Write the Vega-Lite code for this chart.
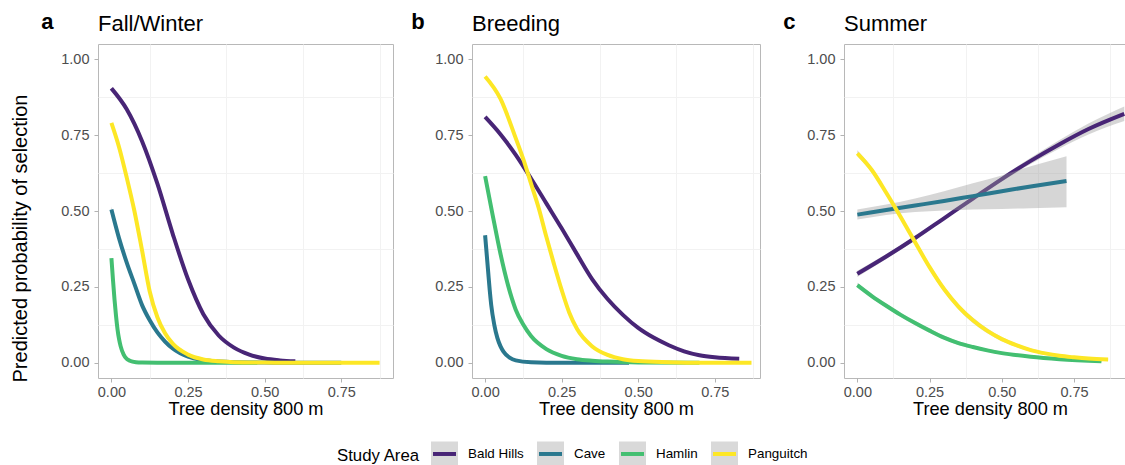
{
  "$schema": "https://vega.github.io/schema/vega-lite/v6.json",
  "padding": {"left": 10, "top": 10, "right": 0, "bottom": 0},
  "data": {
    "values": [
      {"season": "Fall/Winter", "area": "Bald Hills", "x": 0, "p": 0.904},
      {"season": "Fall/Winter", "area": "Bald Hills", "x": 0.05, "p": 0.835},
      {"season": "Fall/Winter", "area": "Bald Hills", "x": 0.1, "p": 0.73},
      {"season": "Fall/Winter", "area": "Bald Hills", "x": 0.15, "p": 0.59},
      {"season": "Fall/Winter", "area": "Bald Hills", "x": 0.2, "p": 0.425},
      {"season": "Fall/Winter", "area": "Bald Hills", "x": 0.25, "p": 0.275},
      {"season": "Fall/Winter", "area": "Bald Hills", "x": 0.3, "p": 0.16},
      {"season": "Fall/Winter", "area": "Bald Hills", "x": 0.35, "p": 0.09},
      {"season": "Fall/Winter", "area": "Bald Hills", "x": 0.4, "p": 0.05},
      {"season": "Fall/Winter", "area": "Bald Hills", "x": 0.45, "p": 0.027},
      {"season": "Fall/Winter", "area": "Bald Hills", "x": 0.5, "p": 0.014},
      {"season": "Fall/Winter", "area": "Bald Hills", "x": 0.55, "p": 0.008},
      {"season": "Fall/Winter", "area": "Bald Hills", "x": 0.6, "p": 0.005},

      {"season": "Fall/Winter", "area": "Cave", "x": 0, "p": 0.505, "lo": 0.495, "hi": 0.515},
      {"season": "Fall/Winter", "area": "Cave", "x": 0.025, "p": 0.41, "lo": 0.401, "hi": 0.419},
      {"season": "Fall/Winter", "area": "Cave", "x": 0.05, "p": 0.33, "lo": 0.322, "hi": 0.338},
      {"season": "Fall/Winter", "area": "Cave", "x": 0.075, "p": 0.26, "lo": 0.252, "hi": 0.268},
      {"season": "Fall/Winter", "area": "Cave", "x": 0.1, "p": 0.19, "lo": 0.182, "hi": 0.198},
      {"season": "Fall/Winter", "area": "Cave", "x": 0.125, "p": 0.14, "lo": 0.132, "hi": 0.148},
      {"season": "Fall/Winter", "area": "Cave", "x": 0.15, "p": 0.1, "lo": 0.092, "hi": 0.108},
      {"season": "Fall/Winter", "area": "Cave", "x": 0.175, "p": 0.07, "lo": 0.063, "hi": 0.077},
      {"season": "Fall/Winter", "area": "Cave", "x": 0.2, "p": 0.047, "lo": 0.041, "hi": 0.053},
      {"season": "Fall/Winter", "area": "Cave", "x": 0.25, "p": 0.02, "lo": 0.016, "hi": 0.024},
      {"season": "Fall/Winter", "area": "Cave", "x": 0.3, "p": 0.009, "lo": 0.006, "hi": 0.012},
      {"season": "Fall/Winter", "area": "Cave", "x": 0.35, "p": 0.004, "lo": 0.002, "hi": 0.006},
      {"season": "Fall/Winter", "area": "Cave", "x": 0.4, "p": 0.002, "lo": 0.001, "hi": 0.003},
      {"season": "Fall/Winter", "area": "Cave", "x": 0.5, "p": 0.001, "lo": 0, "hi": 0.002},
      {"season": "Fall/Winter", "area": "Cave", "x": 0.6, "p": 0, "lo": 0, "hi": 0.001},
      {"season": "Fall/Winter", "area": "Cave", "x": 0.75, "p": 0, "lo": 0, "hi": 0.001},

      {"season": "Fall/Winter", "area": "Hamlin", "x": 0, "p": 0.345},
      {"season": "Fall/Winter", "area": "Hamlin", "x": 0.005, "p": 0.275},
      {"season": "Fall/Winter", "area": "Hamlin", "x": 0.01, "p": 0.21},
      {"season": "Fall/Winter", "area": "Hamlin", "x": 0.015, "p": 0.155},
      {"season": "Fall/Winter", "area": "Hamlin", "x": 0.02, "p": 0.11},
      {"season": "Fall/Winter", "area": "Hamlin", "x": 0.025, "p": 0.078},
      {"season": "Fall/Winter", "area": "Hamlin", "x": 0.03, "p": 0.055},
      {"season": "Fall/Winter", "area": "Hamlin", "x": 0.04, "p": 0.027},
      {"season": "Fall/Winter", "area": "Hamlin", "x": 0.05, "p": 0.013},
      {"season": "Fall/Winter", "area": "Hamlin", "x": 0.06, "p": 0.007},
      {"season": "Fall/Winter", "area": "Hamlin", "x": 0.08, "p": 0.002},
      {"season": "Fall/Winter", "area": "Hamlin", "x": 0.1, "p": 0.001},
      {"season": "Fall/Winter", "area": "Hamlin", "x": 0.2, "p": 0},
      {"season": "Fall/Winter", "area": "Hamlin", "x": 0.476, "p": 0},

      {"season": "Fall/Winter", "area": "Panguitch", "x": 0, "p": 0.79},
      {"season": "Fall/Winter", "area": "Panguitch", "x": 0.025, "p": 0.71},
      {"season": "Fall/Winter", "area": "Panguitch", "x": 0.05, "p": 0.61},
      {"season": "Fall/Winter", "area": "Panguitch", "x": 0.075, "p": 0.5},
      {"season": "Fall/Winter", "area": "Panguitch", "x": 0.1, "p": 0.37},
      {"season": "Fall/Winter", "area": "Panguitch", "x": 0.125, "p": 0.235},
      {"season": "Fall/Winter", "area": "Panguitch", "x": 0.15, "p": 0.15},
      {"season": "Fall/Winter", "area": "Panguitch", "x": 0.175, "p": 0.097},
      {"season": "Fall/Winter", "area": "Panguitch", "x": 0.2, "p": 0.063},
      {"season": "Fall/Winter", "area": "Panguitch", "x": 0.25, "p": 0.027},
      {"season": "Fall/Winter", "area": "Panguitch", "x": 0.3, "p": 0.011},
      {"season": "Fall/Winter", "area": "Panguitch", "x": 0.35, "p": 0.005},
      {"season": "Fall/Winter", "area": "Panguitch", "x": 0.4, "p": 0.002},
      {"season": "Fall/Winter", "area": "Panguitch", "x": 0.5, "p": 0.001},
      {"season": "Fall/Winter", "area": "Panguitch", "x": 0.6, "p": 0},
      {"season": "Fall/Winter", "area": "Panguitch", "x": 0.875, "p": 0},

      {"season": "Breeding", "area": "Bald Hills", "x": 0, "p": 0.81},
      {"season": "Breeding", "area": "Bald Hills", "x": 0.05, "p": 0.753},
      {"season": "Breeding", "area": "Bald Hills", "x": 0.1, "p": 0.685},
      {"season": "Breeding", "area": "Bald Hills", "x": 0.15, "p": 0.607},
      {"season": "Breeding", "area": "Bald Hills", "x": 0.2, "p": 0.525},
      {"season": "Breeding", "area": "Bald Hills", "x": 0.25, "p": 0.443},
      {"season": "Breeding", "area": "Bald Hills", "x": 0.3, "p": 0.358},
      {"season": "Breeding", "area": "Bald Hills", "x": 0.35, "p": 0.275},
      {"season": "Breeding", "area": "Bald Hills", "x": 0.4, "p": 0.21},
      {"season": "Breeding", "area": "Bald Hills", "x": 0.45, "p": 0.158},
      {"season": "Breeding", "area": "Bald Hills", "x": 0.5, "p": 0.115},
      {"season": "Breeding", "area": "Bald Hills", "x": 0.55, "p": 0.083},
      {"season": "Breeding", "area": "Bald Hills", "x": 0.6, "p": 0.058},
      {"season": "Breeding", "area": "Bald Hills", "x": 0.65, "p": 0.038},
      {"season": "Breeding", "area": "Bald Hills", "x": 0.7, "p": 0.025},
      {"season": "Breeding", "area": "Bald Hills", "x": 0.75, "p": 0.018},
      {"season": "Breeding", "area": "Bald Hills", "x": 0.83, "p": 0.013},

      {"season": "Breeding", "area": "Cave", "x": 0, "p": 0.42},
      {"season": "Breeding", "area": "Cave", "x": 0.005, "p": 0.36},
      {"season": "Breeding", "area": "Cave", "x": 0.01, "p": 0.3},
      {"season": "Breeding", "area": "Cave", "x": 0.015, "p": 0.24},
      {"season": "Breeding", "area": "Cave", "x": 0.02, "p": 0.19},
      {"season": "Breeding", "area": "Cave", "x": 0.03, "p": 0.125},
      {"season": "Breeding", "area": "Cave", "x": 0.04, "p": 0.082},
      {"season": "Breeding", "area": "Cave", "x": 0.05, "p": 0.055},
      {"season": "Breeding", "area": "Cave", "x": 0.06, "p": 0.037},
      {"season": "Breeding", "area": "Cave", "x": 0.08, "p": 0.017},
      {"season": "Breeding", "area": "Cave", "x": 0.1, "p": 0.008},
      {"season": "Breeding", "area": "Cave", "x": 0.15, "p": 0.002},
      {"season": "Breeding", "area": "Cave", "x": 0.25, "p": 0},
      {"season": "Breeding", "area": "Cave", "x": 0.47, "p": 0},

      {"season": "Breeding", "area": "Hamlin", "x": 0, "p": 0.615},
      {"season": "Breeding", "area": "Hamlin", "x": 0.025, "p": 0.485},
      {"season": "Breeding", "area": "Hamlin", "x": 0.05, "p": 0.36},
      {"season": "Breeding", "area": "Hamlin", "x": 0.075, "p": 0.255},
      {"season": "Breeding", "area": "Hamlin", "x": 0.1, "p": 0.175},
      {"season": "Breeding", "area": "Hamlin", "x": 0.125, "p": 0.125},
      {"season": "Breeding", "area": "Hamlin", "x": 0.15, "p": 0.088},
      {"season": "Breeding", "area": "Hamlin", "x": 0.2, "p": 0.045},
      {"season": "Breeding", "area": "Hamlin", "x": 0.25, "p": 0.023},
      {"season": "Breeding", "area": "Hamlin", "x": 0.3, "p": 0.012},
      {"season": "Breeding", "area": "Hamlin", "x": 0.35, "p": 0.007},
      {"season": "Breeding", "area": "Hamlin", "x": 0.4, "p": 0.004},
      {"season": "Breeding", "area": "Hamlin", "x": 0.5, "p": 0.001},
      {"season": "Breeding", "area": "Hamlin", "x": 0.7, "p": 0},

      {"season": "Breeding", "area": "Panguitch", "x": 0, "p": 0.943},
      {"season": "Breeding", "area": "Panguitch", "x": 0.05, "p": 0.87},
      {"season": "Breeding", "area": "Panguitch", "x": 0.1, "p": 0.74},
      {"season": "Breeding", "area": "Panguitch", "x": 0.125, "p": 0.67},
      {"season": "Breeding", "area": "Panguitch", "x": 0.15, "p": 0.59},
      {"season": "Breeding", "area": "Panguitch", "x": 0.175, "p": 0.51},
      {"season": "Breeding", "area": "Panguitch", "x": 0.2, "p": 0.415},
      {"season": "Breeding", "area": "Panguitch", "x": 0.225, "p": 0.325},
      {"season": "Breeding", "area": "Panguitch", "x": 0.25, "p": 0.24},
      {"season": "Breeding", "area": "Panguitch", "x": 0.275, "p": 0.165},
      {"season": "Breeding", "area": "Panguitch", "x": 0.3, "p": 0.112},
      {"season": "Breeding", "area": "Panguitch", "x": 0.35, "p": 0.054},
      {"season": "Breeding", "area": "Panguitch", "x": 0.4, "p": 0.026},
      {"season": "Breeding", "area": "Panguitch", "x": 0.45, "p": 0.012},
      {"season": "Breeding", "area": "Panguitch", "x": 0.5, "p": 0.006},
      {"season": "Breeding", "area": "Panguitch", "x": 0.6, "p": 0.002},
      {"season": "Breeding", "area": "Panguitch", "x": 0.7, "p": 0},
      {"season": "Breeding", "area": "Panguitch", "x": 0.87, "p": 0},

      {"season": "Summer", "area": "Bald Hills", "x": 0, "p": 0.293, "lo": 0.283, "hi": 0.303},
      {"season": "Summer", "area": "Bald Hills", "x": 0.1, "p": 0.35, "lo": 0.342, "hi": 0.358},
      {"season": "Summer", "area": "Bald Hills", "x": 0.2, "p": 0.411, "lo": 0.404, "hi": 0.418},
      {"season": "Summer", "area": "Bald Hills", "x": 0.3, "p": 0.476, "lo": 0.47, "hi": 0.482},
      {"season": "Summer", "area": "Bald Hills", "x": 0.4, "p": 0.541, "lo": 0.535, "hi": 0.547},
      {"season": "Summer", "area": "Bald Hills", "x": 0.5, "p": 0.605, "lo": 0.597, "hi": 0.613},
      {"season": "Summer", "area": "Bald Hills", "x": 0.6, "p": 0.665, "lo": 0.655, "hi": 0.675},
      {"season": "Summer", "area": "Bald Hills", "x": 0.7, "p": 0.72, "lo": 0.706, "hi": 0.734},
      {"season": "Summer", "area": "Bald Hills", "x": 0.8, "p": 0.77, "lo": 0.752, "hi": 0.788},
      {"season": "Summer", "area": "Bald Hills", "x": 0.924, "p": 0.82, "lo": 0.796, "hi": 0.844},

      {"season": "Summer", "area": "Cave", "x": 0, "p": 0.488, "lo": 0.472, "hi": 0.505},
      {"season": "Summer", "area": "Cave", "x": 0.1, "p": 0.503, "lo": 0.487, "hi": 0.521},
      {"season": "Summer", "area": "Cave", "x": 0.2, "p": 0.518, "lo": 0.497, "hi": 0.541},
      {"season": "Summer", "area": "Cave", "x": 0.3, "p": 0.533, "lo": 0.502, "hi": 0.565},
      {"season": "Summer", "area": "Cave", "x": 0.4, "p": 0.549, "lo": 0.505, "hi": 0.591},
      {"season": "Summer", "area": "Cave", "x": 0.5, "p": 0.565, "lo": 0.507, "hi": 0.617},
      {"season": "Summer", "area": "Cave", "x": 0.6, "p": 0.581, "lo": 0.509, "hi": 0.647},
      {"season": "Summer", "area": "Cave", "x": 0.724, "p": 0.599, "lo": 0.512, "hi": 0.68},

      {"season": "Summer", "area": "Hamlin", "x": 0, "p": 0.256, "lo": 0.248, "hi": 0.264},
      {"season": "Summer", "area": "Hamlin", "x": 0.05, "p": 0.22, "lo": 0.213, "hi": 0.227},
      {"season": "Summer", "area": "Hamlin", "x": 0.1, "p": 0.188, "lo": 0.181, "hi": 0.195},
      {"season": "Summer", "area": "Hamlin", "x": 0.15, "p": 0.158, "lo": 0.151, "hi": 0.165},
      {"season": "Summer", "area": "Hamlin", "x": 0.2, "p": 0.131, "lo": 0.124, "hi": 0.138},
      {"season": "Summer", "area": "Hamlin", "x": 0.25, "p": 0.106, "lo": 0.099, "hi": 0.113},
      {"season": "Summer", "area": "Hamlin", "x": 0.3, "p": 0.083, "lo": 0.077, "hi": 0.089},
      {"season": "Summer", "area": "Hamlin", "x": 0.35, "p": 0.065, "lo": 0.059, "hi": 0.071},
      {"season": "Summer", "area": "Hamlin", "x": 0.4, "p": 0.052, "lo": 0.047, "hi": 0.057},
      {"season": "Summer", "area": "Hamlin", "x": 0.45, "p": 0.041, "lo": 0.036, "hi": 0.046},
      {"season": "Summer", "area": "Hamlin", "x": 0.5, "p": 0.032, "lo": 0.028, "hi": 0.036},
      {"season": "Summer", "area": "Hamlin", "x": 0.6, "p": 0.02, "lo": 0.016, "hi": 0.024},
      {"season": "Summer", "area": "Hamlin", "x": 0.7, "p": 0.012, "lo": 0.009, "hi": 0.015},
      {"season": "Summer", "area": "Hamlin", "x": 0.845, "p": 0.005, "lo": 0.003, "hi": 0.007},

      {"season": "Summer", "area": "Panguitch", "x": 0, "p": 0.69, "lo": 0.68, "hi": 0.7},
      {"season": "Summer", "area": "Panguitch", "x": 0.05, "p": 0.635, "lo": 0.626, "hi": 0.644},
      {"season": "Summer", "area": "Panguitch", "x": 0.1, "p": 0.56, "lo": 0.552, "hi": 0.568},
      {"season": "Summer", "area": "Panguitch", "x": 0.15, "p": 0.48, "lo": 0.472, "hi": 0.488},
      {"season": "Summer", "area": "Panguitch", "x": 0.2, "p": 0.397, "lo": 0.389, "hi": 0.405},
      {"season": "Summer", "area": "Panguitch", "x": 0.25, "p": 0.315, "lo": 0.306, "hi": 0.324},
      {"season": "Summer", "area": "Panguitch", "x": 0.3, "p": 0.243, "lo": 0.234, "hi": 0.252},
      {"season": "Summer", "area": "Panguitch", "x": 0.35, "p": 0.185, "lo": 0.176, "hi": 0.194},
      {"season": "Summer", "area": "Panguitch", "x": 0.4, "p": 0.14, "lo": 0.131, "hi": 0.149},
      {"season": "Summer", "area": "Panguitch", "x": 0.45, "p": 0.105, "lo": 0.097, "hi": 0.113},
      {"season": "Summer", "area": "Panguitch", "x": 0.5, "p": 0.078, "lo": 0.071, "hi": 0.085},
      {"season": "Summer", "area": "Panguitch", "x": 0.55, "p": 0.058, "lo": 0.052, "hi": 0.064},
      {"season": "Summer", "area": "Panguitch", "x": 0.6, "p": 0.042, "lo": 0.037, "hi": 0.047},
      {"season": "Summer", "area": "Panguitch", "x": 0.65, "p": 0.031, "lo": 0.026, "hi": 0.036},
      {"season": "Summer", "area": "Panguitch", "x": 0.7, "p": 0.023, "lo": 0.019, "hi": 0.027},
      {"season": "Summer", "area": "Panguitch", "x": 0.75, "p": 0.018, "lo": 0.014, "hi": 0.022},
      {"season": "Summer", "area": "Panguitch", "x": 0.8, "p": 0.014, "lo": 0.011, "hi": 0.017},
      {"season": "Summer", "area": "Panguitch", "x": 0.868, "p": 0.011, "lo": 0.008, "hi": 0.014}
    ]
  },
  "spacing": 17,
  "hconcat": [
    {
      "title": {"text": "a", "fontWeight": "bold", "frame": "bounds", "anchor": "start", "offset": 0, "dx": 31, "dy": 21},
      "hconcat": [
        {
          "width": 295,
          "height": 334,
          "title": {"text": "Fall/Winter", "frame": "group", "anchor": "start", "offset": 8},
          "transform": [{"filter": {"field": "season", "equal": "Fall/Winter"}}],
          "layer": [
            {
              "transform": [{"filter": "datum.area === 'Bald Hills' && isValid(datum.lo)"}],
              "mark": {"type": "area", "color": "#999999", "opacity": 0.4, "interpolate": "monotone"},
              "encoding": {
                "x": {"field": "x", "type": "quantitative", "scale": {"domain": [-0.04375, 0.91875], "nice": false, "zero": false},
                      "axis": {"orient": "top", "values": [0.125, 0.375, 0.625, 0.875], "grid": true, "gridColor": "#F2F2F2", "labels": false, "ticks": false, "domain": false, "title": null}},
                "y": {"field": "lo", "type": "quantitative", "scale": {"domain": [-0.05, 1.05], "nice": false, "zero": false},
                      "axis": {"orient": "right", "values": [0.125, 0.375, 0.625, 0.875], "grid": true, "gridColor": "#F2F2F2", "labels": false, "ticks": false, "domain": false, "title": null}},
                "y2": {"field": "hi"}
              }
            },
            {
              "transform": [{"filter": "datum.area === 'Bald Hills'"}],
              "mark": {"type": "line", "strokeWidth": 4, "strokeCap": "butt", "interpolate": "monotone"},
              "encoding": {
                "x": {"field": "x", "type": "quantitative", "scale": {"domain": [-0.04375, 0.91875], "nice": false, "zero": false},
                      "axis": {"values": [0, 0.25, 0.5, 0.75], "format": ".2f", "title": "Tree density 800 m"}},
                "y": {"field": "p", "type": "quantitative", "scale": {"domain": [-0.05, 1.05], "nice": false, "zero": false},
                      "axis": {"values": [0, 0.25, 0.5, 0.75, 1], "format": ".2f", "title": "Predicted probability of selection", "titleY": 194}},
                "color": {"field": "area", "type": "nominal", "title": "Study Area",
                          "scale": {"domain": ["Bald Hills", "Cave", "Hamlin", "Panguitch"], "range": ["#482576", "#2A788E", "#43BF71", "#FDE725"]},
                          "legend": {"encoding": {"symbols": {"fill": {"value": "#D9D9D9"}, "strokeDash": {"value": [23, 1000]}}}}}
              }
            },
            {
              "transform": [{"filter": "datum.area !== 'Bald Hills' && isValid(datum.lo)"}],
              "mark": {"type": "area", "color": "#999999", "opacity": 0.4, "interpolate": "monotone"},
              "encoding": {
                "x": {"field": "x", "type": "quantitative", "scale": {"domain": [-0.04375, 0.91875], "nice": false, "zero": false}, "axis": null},
                "y": {"field": "lo", "type": "quantitative", "scale": {"domain": [-0.05, 1.05], "nice": false, "zero": false}, "axis": null},
                "y2": {"field": "hi"},
                "detail": {"field": "area"}
              }
            },
            {
              "transform": [{"filter": "datum.area !== 'Bald Hills'"}],
              "mark": {"type": "line", "strokeWidth": 4, "strokeCap": "butt", "interpolate": "monotone"},
              "encoding": {
                "x": {"field": "x", "type": "quantitative", "scale": {"domain": [-0.04375, 0.91875], "nice": false, "zero": false}, "axis": null},
                "y": {"field": "p", "type": "quantitative", "scale": {"domain": [-0.05, 1.05], "nice": false, "zero": false}, "axis": null},
                "color": {"field": "area", "type": "nominal", "title": "Study Area",
                          "scale": {"domain": ["Bald Hills", "Cave", "Hamlin", "Panguitch"], "range": ["#482576", "#2A788E", "#43BF71", "#FDE725"]},
                          "legend": {"encoding": {"symbols": {"fill": {"value": "#D9D9D9"}, "strokeDash": {"value": [23, 1000]}}}}}
              }
            }
          ],
          "resolve": {"axis": {"x": "independent", "y": "independent"}}
        }
      ]
    },
    {
      "spacing": 22,
      "hconcat": [
        {
          "title": {"text": "b", "fontWeight": "bold", "frame": "bounds", "anchor": "start", "offset": 0, "dx": -23, "dy": 21},
          "hconcat": [
            {
              "width": 288,
              "height": 334,
              "title": {"text": "Breeding", "frame": "group", "anchor": "start", "offset": 8},
              "transform": [{"filter": {"field": "season", "equal": "Breeding"}}],
              "layer": [
                {
                  "transform": [{"filter": "datum.area === 'Bald Hills' && isValid(datum.lo)"}],
                  "mark": {"type": "area", "color": "#999999", "opacity": 0.4, "interpolate": "monotone"},
                  "encoding": {
                    "x": {"field": "x", "type": "quantitative", "scale": {"domain": [-0.0428, 0.8978], "nice": false, "zero": false},
                          "axis": {"orient": "top", "values": [0.125, 0.375, 0.625, 0.875], "grid": true, "gridColor": "#F2F2F2", "labels": false, "ticks": false, "domain": false, "title": null}},
                    "y": {"field": "lo", "type": "quantitative", "scale": {"domain": [-0.05, 1.05], "nice": false, "zero": false},
                          "axis": {"orient": "right", "values": [0.125, 0.375, 0.625, 0.875], "grid": true, "gridColor": "#F2F2F2", "labels": false, "ticks": false, "domain": false, "title": null}},
                    "y2": {"field": "hi"}
                  }
                },
                {
                  "transform": [{"filter": "datum.area === 'Bald Hills'"}],
                  "mark": {"type": "line", "strokeWidth": 4, "strokeCap": "butt", "interpolate": "monotone"},
                  "encoding": {
                    "x": {"field": "x", "type": "quantitative", "scale": {"domain": [-0.0428, 0.8978], "nice": false, "zero": false},
                          "axis": {"values": [0, 0.25, 0.5, 0.75], "format": ".2f", "title": "Tree density 800 m"}},
                    "y": {"field": "p", "type": "quantitative", "scale": {"domain": [-0.05, 1.05], "nice": false, "zero": false},
                          "axis": {"values": [0, 0.25, 0.5, 0.75, 1], "format": ".2f", "title": null}},
                    "color": {"field": "area", "type": "nominal", "title": "Study Area",
                              "scale": {"domain": ["Bald Hills", "Cave", "Hamlin", "Panguitch"], "range": ["#482576", "#2A788E", "#43BF71", "#FDE725"]},
                              "legend": {"encoding": {"symbols": {"fill": {"value": "#D9D9D9"}, "strokeDash": {"value": [23, 1000]}}}}}
                  }
                },
                {
                  "transform": [{"filter": "datum.area !== 'Bald Hills' && isValid(datum.lo)"}],
                  "mark": {"type": "area", "color": "#999999", "opacity": 0.4, "interpolate": "monotone"},
                  "encoding": {
                    "x": {"field": "x", "type": "quantitative", "scale": {"domain": [-0.0428, 0.8978], "nice": false, "zero": false}, "axis": null},
                    "y": {"field": "lo", "type": "quantitative", "scale": {"domain": [-0.05, 1.05], "nice": false, "zero": false}, "axis": null},
                    "y2": {"field": "hi"},
                    "detail": {"field": "area"}
                  }
                },
                {
                  "transform": [{"filter": "datum.area !== 'Bald Hills'"}],
                  "mark": {"type": "line", "strokeWidth": 4, "strokeCap": "butt", "interpolate": "monotone"},
                  "encoding": {
                    "x": {"field": "x", "type": "quantitative", "scale": {"domain": [-0.0428, 0.8978], "nice": false, "zero": false}, "axis": null},
                    "y": {"field": "p", "type": "quantitative", "scale": {"domain": [-0.05, 1.05], "nice": false, "zero": false}, "axis": null},
                    "color": {"field": "area", "type": "nominal", "title": "Study Area",
                              "scale": {"domain": ["Bald Hills", "Cave", "Hamlin", "Panguitch"], "range": ["#482576", "#2A788E", "#43BF71", "#FDE725"]},
                              "legend": {"encoding": {"symbols": {"fill": {"value": "#D9D9D9"}, "strokeDash": {"value": [23, 1000]}}}}}
                  }
                }
              ],
              "resolve": {"axis": {"x": "independent", "y": "independent"}}
            }
          ]
        },
        {
          "title": {"text": "c", "fontWeight": "bold", "frame": "bounds", "anchor": "start", "offset": 0, "dx": -23, "dy": 21},
          "hconcat": [
            {
              "width": 281,
              "height": 334,
              "title": {"text": "Summer", "frame": "group", "anchor": "start", "offset": 8},
              "transform": [{"filter": {"field": "season", "equal": "Summer"}}],
              "layer": [
                {
                  "transform": [{"filter": "datum.area === 'Bald Hills' && isValid(datum.lo)"}],
                  "mark": {"type": "area", "color": "#999999", "opacity": 0.4, "interpolate": "monotone"},
                  "encoding": {
                    "x": {"field": "x", "type": "quantitative", "scale": {"domain": [-0.0462, 0.9265], "nice": false, "zero": false},
                          "axis": {"orient": "top", "values": [0.125, 0.375, 0.625, 0.875], "grid": true, "gridColor": "#F2F2F2", "labels": false, "ticks": false, "domain": false, "title": null}},
                    "y": {"field": "lo", "type": "quantitative", "scale": {"domain": [-0.05, 1.05], "nice": false, "zero": false},
                          "axis": {"orient": "right", "values": [0.125, 0.375, 0.625, 0.875], "grid": true, "gridColor": "#F2F2F2", "labels": false, "ticks": false, "domain": false, "title": null}},
                    "y2": {"field": "hi"}
                  }
                },
                {
                  "transform": [{"filter": "datum.area === 'Bald Hills'"}],
                  "mark": {"type": "line", "strokeWidth": 4, "strokeCap": "butt", "interpolate": "monotone"},
                  "encoding": {
                    "x": {"field": "x", "type": "quantitative", "scale": {"domain": [-0.0462, 0.9265], "nice": false, "zero": false},
                          "axis": {"values": [0, 0.25, 0.5, 0.75], "format": ".2f", "title": "Tree density 800 m", "titleX": 146}},
                    "y": {"field": "p", "type": "quantitative", "scale": {"domain": [-0.05, 1.05], "nice": false, "zero": false},
                          "axis": {"values": [0, 0.25, 0.5, 0.75, 1], "format": ".2f", "title": null}},
                    "color": {"field": "area", "type": "nominal", "title": "Study Area",
                              "scale": {"domain": ["Bald Hills", "Cave", "Hamlin", "Panguitch"], "range": ["#482576", "#2A788E", "#43BF71", "#FDE725"]},
                              "legend": {"encoding": {"symbols": {"fill": {"value": "#D9D9D9"}, "strokeDash": {"value": [23, 1000]}}}}}
                  }
                },
                {
                  "transform": [{"filter": "datum.area !== 'Bald Hills' && isValid(datum.lo)"}],
                  "mark": {"type": "area", "color": "#999999", "opacity": 0.4, "interpolate": "monotone"},
                  "encoding": {
                    "x": {"field": "x", "type": "quantitative", "scale": {"domain": [-0.0462, 0.9265], "nice": false, "zero": false}, "axis": null},
                    "y": {"field": "lo", "type": "quantitative", "scale": {"domain": [-0.05, 1.05], "nice": false, "zero": false}, "axis": null},
                    "y2": {"field": "hi"},
                    "detail": {"field": "area"}
                  }
                },
                {
                  "transform": [{"filter": "datum.area !== 'Bald Hills'"}],
                  "mark": {"type": "line", "strokeWidth": 4, "strokeCap": "butt", "interpolate": "monotone"},
                  "encoding": {
                    "x": {"field": "x", "type": "quantitative", "scale": {"domain": [-0.0462, 0.9265], "nice": false, "zero": false}, "axis": null},
                    "y": {"field": "p", "type": "quantitative", "scale": {"domain": [-0.05, 1.05], "nice": false, "zero": false}, "axis": null},
                    "color": {"field": "area", "type": "nominal", "title": "Study Area",
                              "scale": {"domain": ["Bald Hills", "Cave", "Hamlin", "Panguitch"], "range": ["#482576", "#2A788E", "#43BF71", "#FDE725"]},
                              "legend": {"encoding": {"symbols": {"fill": {"value": "#D9D9D9"}, "strokeDash": {"value": [23, 1000]}}}}}
                  }
                }
              ],
              "resolve": {"axis": {"x": "independent", "y": "independent"}}
            }
          ]
        }
      ]
    }
  ],
  "config": {
    "font": "Liberation Sans",
    "view": {"stroke": "#B8B8B8", "strokeWidth": 1},
    "axis": {
      "domain": false, "grid": true, "gridColor": "#E3E3E3", "gridWidth": 1,
      "ticks": true, "tickColor": "#B3B3B3", "tickSize": 4, "tickWidth": 1,
      "labelColor": "#4D4D4D", "labelFontSize": 14.5, "labelFont": "Liberation Sans",
      "titleFont": "Liberation Sans", "titleFontWeight": "normal", "titleColor": "#000000"
    },
    "axisX": {"labelPadding": 3, "titleFontSize": 18.2, "titlePadding": 2},
    "axisY": {"labelPadding": 5, "titleFontSize": 20, "titlePadding": 30},
    "title": {"font": "Liberation Sans", "fontSize": 22, "fontWeight": "normal", "color": "#000000", "anchor": "start", "baseline": "alphabetic"},
    "legend": {
      "orient": "none", "legendX": 239, "legendY": 394, "direction": "horizontal",
      "titleOrient": "left", "titleAnchor": "middle", "titleBaseline": "middle",
      "titleFontSize": 16.8, "titleFontWeight": "normal", "titleColor": "#000000", "titlePadding": 8,
      "labelFontSize": 13.4, "labelColor": "#000000", "labelOffset": 8, "columnPadding": 5,
      "symbolType": "M-0.85,0H1V-0.93H-1V0.93H1V0Z", "symbolSize": 729, "symbolStrokeWidth": 4, "padding": 0
    }
  }
}
